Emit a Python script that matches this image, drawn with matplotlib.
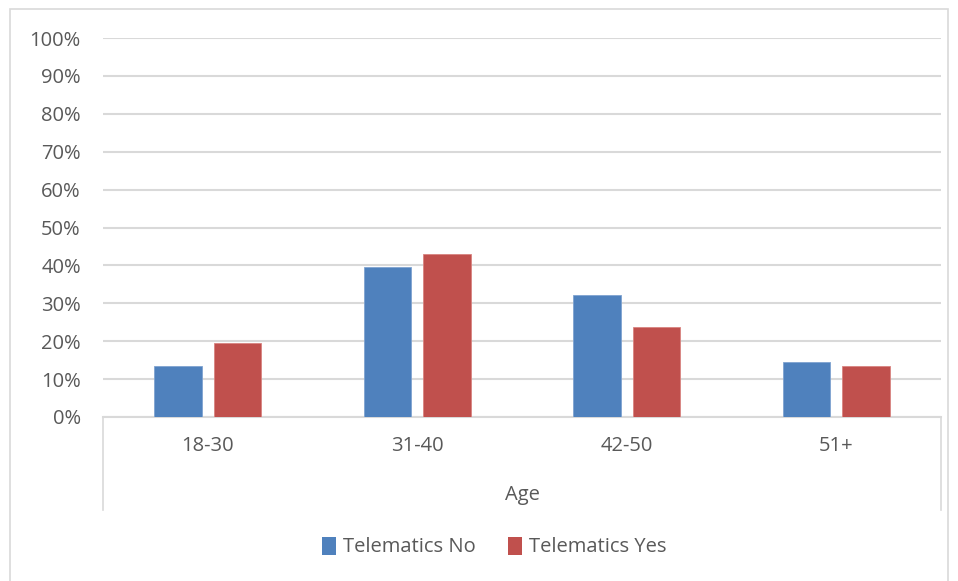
import matplotlib.pyplot as plt
import numpy as np
from matplotlib.patches import Rectangle, Patch

plt.rcParams['font.family'] = ['Open Sans', 'DejaVu Sans']

ages = ['18-30', '31-40', '42-50', '51+']
telematics_no = [0.135, 0.397, 0.323, 0.145]
telematics_yes = [0.196, 0.430, 0.237, 0.135]
y_ticks = np.arange(0, 1.01, 0.1)
y_labels = [f'{int(round(v * 100))}%' for v in y_ticks]

blue = '#4F81BD'
red = '#C0504D'
text_col = '#595959'
grid_col = '#D9D9D9'
fs = 14.5

W, H = 958, 581
fig = plt.figure(figsize=(W / 100, H / 100), dpi=100)

# outer chart border
fig.patches.append(Rectangle((10 / W, -0.02), 938 / W, 1 - 9 / H + 0.02,
                             transform=fig.transFigure, fill=False,
                             edgecolor=grid_col, linewidth=1.2))

ax = fig.add_axes([103 / W, 1 - 417 / H, 838 / W, 379 / H])

x = np.arange(len(ages))
width = 0.226
offset = 0.1425
ax.bar(x - offset, telematics_no, width, color=blue, edgecolor='#7FA3D0', linewidth=0.6, zorder=3)
ax.bar(x + offset, telematics_yes, width, color=red, edgecolor='#D98481', linewidth=0.6, zorder=3)

ax.set_xlim(-0.5, len(ages) - 0.5)
ax.set_ylim(0, 1)
ax.set_yticks(y_ticks)
ax.set_yticklabels(y_labels)
ax.set_xticks(x)
ax.set_xticklabels(ages)
ax.tick_params(axis='y', length=0, pad=16, labelsize=fs, labelcolor=text_col)
ax.tick_params(axis='x', length=0, pad=14, labelsize=fs, labelcolor=text_col)
ax.yaxis.grid(True, color=grid_col, linewidth=1.5, zorder=0)
ax.set_axisbelow(True)
for s in ['top', 'right', 'left']:
    ax.spines[s].set_visible(False)
ax.spines['bottom'].set_color(grid_col)
ax.spines['bottom'].set_linewidth(1.5)

# category box lines below the axis
box_bottom = -(510 - 417) / 379
for xa in (0, 1):
    ax.plot([xa, xa], [0, box_bottom], transform=ax.transAxes, color=grid_col,
            linewidth=1.2, clip_on=False)

ax.text(0.5, -(495 - 417) / 379, 'Age', transform=ax.transAxes, ha='center',
        va='center', fontsize=fs, color=text_col)

handles = [Patch(facecolor=blue), Patch(facecolor=red)]
fig.legend(handles, ['Telematics No', 'Telematics Yes'], loc='center',
           bbox_to_anchor=(494 / W, 1 - 547 / H), ncol=2, frameon=False,
           fontsize=fs, labelcolor=text_col, handlelength=0.7, handleheight=1.0,
           handletextpad=0.35, columnspacing=1.6)

fig.savefig('out.png', dpi=100)
